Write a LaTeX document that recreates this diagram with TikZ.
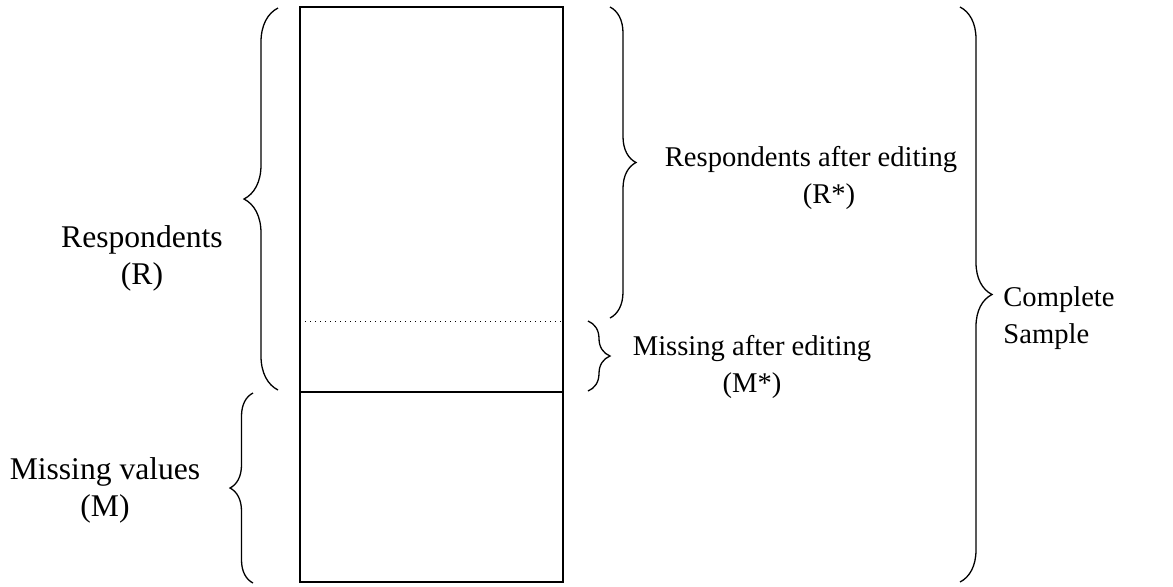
\documentclass[tikz,border=0pt]{standalone}
\usepackage{fontspec}
\setmainfont{Liberation Serif}
\usetikzlibrary{decorations.pathreplacing, positioning}
\tikzstyle{txt} = [align=center, font=\fontsize{14.3}{18.5}\selectfont, inner sep=0pt]
\tikzstyle{bigtxt} = [txt, font=\fontsize{15.8}{18.5}\selectfont]
\tikzstyle{box} = [line width=0.8pt]
\tikzstyle{curly} = [decorate, decoration={brace, amplitude=12pt}, line width=0.65pt]

\begin{document}
\begin{tikzpicture}[x=0.5pt, y=-0.5pt]
\useasboundingbox (0,0) rectangle (1173,586);

% column
\coordinate (tl) at (300,7);
\coordinate (br) at (563,582);
\draw [box] (tl) rectangle (br);
\draw [box] (300,392) coordinate (cutl) -- (563,392) coordinate (cutr);
\draw [dotted, line width=0.5pt] (300,321) coordinate (dotl) -- (563,321) coordinate (dotr);

% braces
\coordinate (rtop) at (278,8);
\coordinate (rbot) at (278,390);
\coordinate (mtop) at (253,393);
\coordinate (mbot) at (253,583);
\coordinate (rstop) at (610,7);
\coordinate (rsbot) at (610,318);
\coordinate (mstop) at (588,321);
\coordinate (msbot) at (588,391);
\coordinate (ctop) at (960,7);
\coordinate (cbot) at (960,582);

\draw [curly, decoration={amplitude=17pt}] (rbot) -- (rtop);
\draw [curly, decoration={amplitude=11.5pt}] (mbot) -- (mtop);
\draw [curly, decoration={amplitude=13pt}] (rstop) -- (rsbot);
\draw [curly, decoration={amplitude=11pt}] (mstop) -- (msbot);
\draw [curly, decoration={amplitude=16pt}] (ctop) -- (cbot);

% labels
\node (resp) [bigtxt] at (142,258) {Respondents\\(R)};
\node (miss) [bigtxt] at (105,490) {Missing values\\(M)};
\node (respedit) [txt] at (811,178) {Respondents after editing\\\hspace*{18pt}(R*)};
\node (missedit) [txt] at (752,367) {Missing after editing\\(M*)};
\node (sample) [txt, align=left, anchor=west] at (1003,318) {Complete\\Sample};

\end{tikzpicture}
\end{document}
